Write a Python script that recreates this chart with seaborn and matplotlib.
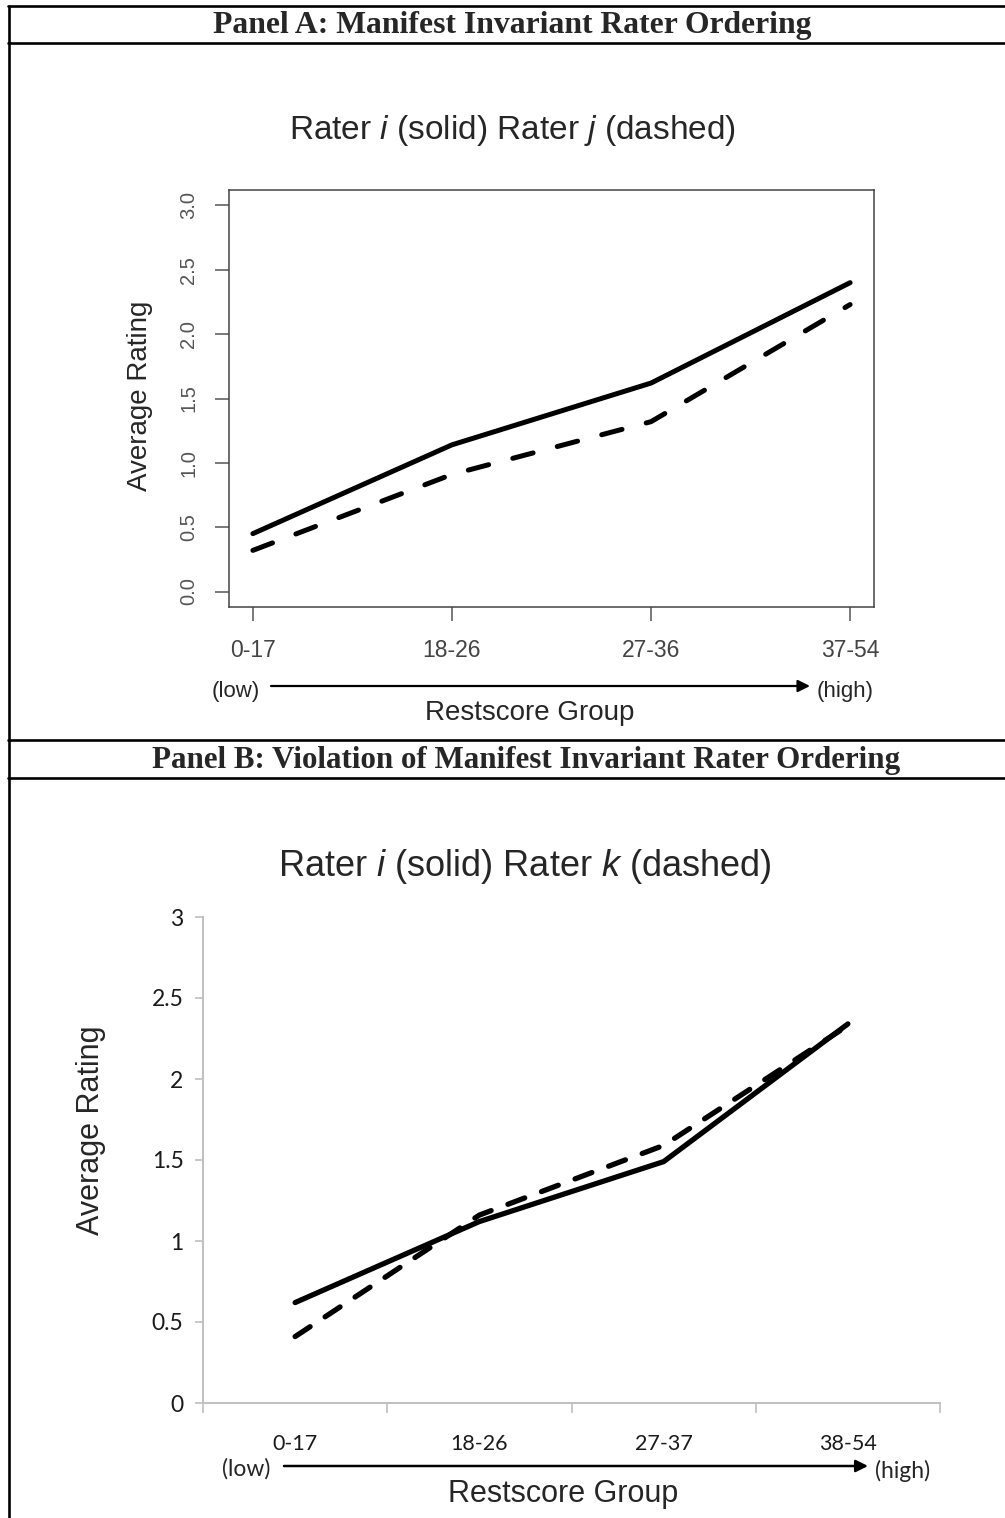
import matplotlib
matplotlib.use("Agg")
import matplotlib.pyplot as plt
from matplotlib.lines import Line2D
import numpy as np
import pandas as pd
import seaborn as sns

# ---- data -------------------------------------------------------------
groups_a = ["0-17", "18-26", "27-36", "37-54"]
rater_i_a = [0.45, 1.14, 1.62, 2.40]
rater_j_a = [0.32, 0.91, 1.32, 2.23]

groups_b = ["0-17", "18-26", "27-37", "38-54"]
rater_i_b = [0.62, 1.12, 1.49, 2.34]
rater_k_b = [0.41, 1.16, 1.59, 2.33]

yticks_a = [0.0, 0.5, 1.0, 1.5, 2.0, 2.5, 3.0]
ytick_labels_a = ["0.0", "0.5", "1.0", "1.5", "2.0", "2.5", "3.0"]
yticks_b = [0, 0.5, 1, 1.5, 2, 2.5, 3]
ytick_labels_b = ["0", "0.5", "1", "1.5", "2", "2.5", "3"]

header_a = "Panel A: Manifest Invariant Rater Ordering"
header_b = "Panel B: Violation of Manifest Invariant Rater Ordering"

# ---- style ------------------------------------------------------------
sns.set_style("white")
plt.rcParams["font.family"] = ["Liberation Sans", "DejaVu Sans"]
plt.rcParams["mathtext.fontset"] = "custom"
plt.rcParams["mathtext.rm"] = "Liberation Sans"
plt.rcParams["mathtext.it"] = "Liberation Sans:italic"

W, H = 1005, 1518
fig = plt.figure(figsize=(W / 100, H / 100), dpi=100)
fig.patch.set_facecolor("white")


def fx(x):
    return x / W


def fy(y):
    return 1 - y / H


def ax_rect(left, top, right, bottom):
    return [fx(left), fy(bottom), (right - left) / W, (bottom - top) / H]


def long_form(groups, first, second, names):
    pos = np.arange(len(groups))
    return pd.DataFrame({
        "pos": np.concatenate([pos, pos]),
        "rating": list(first) + list(second),
        "rater": [names[0]] * len(groups) + [names[1]] * len(groups),
    })


def axis_arrow(ax, x0, x1, y, lw):
    ax.annotate("", xy=(x1, H - y), xytext=(x0, H - y),
                xycoords="figure pixels", textcoords="figure pixels",
                annotation_clip=False,
                arrowprops=dict(arrowstyle="-|>", lw=lw, color="black",
                                mutation_scale=18, shrinkA=0, shrinkB=0))


# ---- table frame ------------------------------------------------------
frame_kw = dict(color="black", lw=1.9, transform=fig.transFigure)
for yy in (6, 43, 740, 778):
    fig.add_artist(Line2D([fx(8), 1.0], [fy(yy), fy(yy)], **frame_kw))
fig.add_artist(Line2D([fx(9), fx(9)], [fy(6), 0.0], **frame_kw))

serif_bold = dict(family="Liberation Serif", weight="bold", ha="center", va="center")
fig.text(fx(512), fy(26), header_a, fontsize=22.8, **serif_bold)
fig.text(fx(526), fy(761), header_b, fontsize=22.3, **serif_bold)

# ---- Panel A ----------------------------------------------------------
ax_a = fig.add_axes(ax_rect(229, 190, 874, 607))
df_a = long_form(groups_a, rater_i_a, rater_j_a, ("i", "j"))
sns.lineplot(data=df_a, x="pos", y="rating", style="rater",
             dashes={"i": "", "j": (4.2, 5.0)}, color="black", lw=3.6,
             legend=False, ax=ax_a)
for ln in ax_a.get_lines():
    ln.set_solid_capstyle("round")
    ln.set_dash_capstyle("round")
ax_a.set_xlim(-0.12, 3.12)
ax_a.set_ylim(-0.12, 3.12)
ax_a.set_xticks(range(len(groups_a)))
ax_a.set_xticklabels(groups_a, fontsize=16.5, color="#444444")
ax_a.set_yticks(yticks_a)
ax_a.set_yticklabels(ytick_labels_a, fontsize=14.5, color="#555555",
                     rotation=90, va="center")
ax_a.tick_params(axis="both", which="major", length=10, width=1.1,
                 color="#555555", direction="out", left=True, bottom=True)
ax_a.tick_params(axis="x", pad=13)
ax_a.tick_params(axis="y", pad=12)
for sp in ax_a.spines.values():
    sp.set_visible(True)
    sp.set_color("#444444")
    sp.set_linewidth(1.1)
ax_a.set_xlabel("")
ax_a.set_ylabel("")

fig.text(fx(513), fy(131), r"Rater $i$ (solid) Rater $j$ (dashed)",
         fontsize=24, ha="center", va="center")
fig.text(fx(140), fy(396), "Average Rating", fontsize=20, rotation=90,
         ha="center", va="center")
axis_arrow(ax_a, 271, 810, 686, 1.6)
fig.text(fx(236), fy(691), "(low)", fontsize=16, ha="center", va="center")
fig.text(fx(845), fy(692), "(high)", fontsize=16, ha="center", va="center")
fig.text(fx(530), fy(713), "Restscore Group", fontsize=20,
         ha="center", va="center")

# ---- Panel B ----------------------------------------------------------
ax_b = fig.add_axes(ax_rect(203, 917, 940, 1403))
df_b = long_form(groups_b, rater_i_b, rater_k_b, ("i", "k"))
sns.lineplot(data=df_b, x="pos", y="rating", style="rater",
             dashes={"i": "", "k": (3.4, 3.4)}, color="black", lw=3.8,
             legend=False, ax=ax_b)
for ln in ax_b.get_lines():
    ln.set_solid_capstyle("round")
    ln.set_dash_capstyle("round")
ax_b.set_xlim(-0.5, 3.5)
ax_b.set_ylim(0, 3)
ax_b.set_yticks(yticks_b)
ax_b.set_yticklabels(ytick_labels_b, fontsize=16.5, color="#1a1a1a",
                     family="Lato")
# category boundaries carry the tick marks, labels sit at the centres
ax_b.set_xticks(np.arange(-0.5, 3.6, 1.0))
ax_b.set_xticklabels([])
ax_b.set_xticks(range(len(groups_b)), minor=True)
ax_b.set_xticklabels(groups_b, minor=True, fontsize=15.5, color="#1a1a1a",
                     family="Lato")
ax_b.tick_params(axis="x", which="major", length=7, width=1.2,
                 color="#bfbfbf", direction="out", bottom=True)
ax_b.tick_params(axis="x", which="minor", length=0, pad=22)
ax_b.tick_params(axis="y", which="major", length=6, width=1.2,
                 color="#bfbfbf", direction="out", left=True, pad=8)
for side in ("top", "right"):
    ax_b.spines[side].set_visible(False)
for side in ("left", "bottom"):
    ax_b.spines[side].set_visible(True)
    ax_b.spines[side].set_color("#bfbfbf")
    ax_b.spines[side].set_linewidth(1.4)
ax_b.set_xlabel("")
ax_b.set_ylabel("")

fig.text(fx(525), fy(866), r"Rater $i$ (solid) Rater $k$ (dashed)",
         fontsize=26, ha="center", va="center")
fig.text(fx(91), fy(1130), "Average Rating", fontsize=22, rotation=90,
         ha="center", va="center")
axis_arrow(ax_b, 284, 868, 1466, 1.8)
fig.text(fx(246), fy(1469), "(low)", fontsize=16.5, family="Lato",
         ha="center", va="center")
fig.text(fx(903), fy(1471), "(high)", fontsize=16.5, family="Lato",
         ha="center", va="center")
fig.text(fx(563), fy(1494), "Restscore Group", fontsize=22,
         ha="center", va="center")

fig.savefig("out.png", dpi=100, facecolor="white")
